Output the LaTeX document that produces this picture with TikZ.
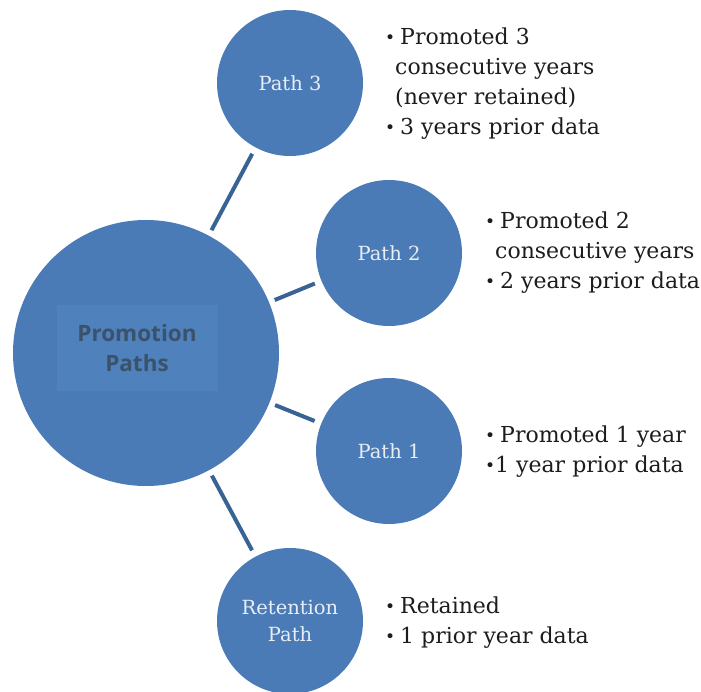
\documentclass[tikz,border=0pt]{standalone}
\usepackage{fontspec}
\setmainfont{DejaVu Serif}
\newfontfamily\hubfont{Open Sans}
\usetikzlibrary{positioning}

\definecolor{circblue}{RGB}{74,123,183}
\definecolor{boxblue}{RGB}{79,129,189}
\definecolor{linkblue}{RGB}{56,99,146}
\definecolor{hubtext}{RGB}{58,82,106}
\definecolor{pathtext}{RGB}{232,238,246}
\definecolor{notetext}{RGB}{28,28,28}

\newcommand{\bul}{\makebox[15pt][l]{\raisebox{1pt}{\fontsize{17}{30}\selectfont\textbullet}}}
\newcommand{\tightbul}{\makebox[10pt][l]{\raisebox{1pt}{\fontsize{17}{30}\selectfont\textbullet}}}
\newcommand{\ind}{\hspace*{10pt}}

\begin{document}
\begin{tikzpicture}[
    x=1pt, y=-1pt,
    hub/.style={circle, fill=circblue, minimum size=266pt, inner sep=0pt},
    pathcirc/.style={circle, fill=circblue, minimum size=146pt, inner sep=0pt, text=pathtext, align=center, font=\fontsize{19.5}{27}\selectfont},
    hublabel/.style={fill=boxblue, minimum width=161pt, minimum height=85pt, text=hubtext, align=center, font=\hubfont\bfseries\fontsize{22.5}{30}\selectfont},
    notes/.style={anchor=north west, inner sep=0pt, align=left, text=notetext, font=\fontsize{22}{30}\selectfont},
    link/.style={draw=linkblue, line width=4pt, shorten <=6pt, shorten >=7pt}
]
\useasboundingbox (0,0) rectangle (701,692);

% central circle
\node[hub] (main) at (146,353) {};
\node[hublabel] (mainlbl) at (137,348) {Promotion\\Paths};

% the four paths
\node[pathcirc] (p3) at (290,83) {Path 3};
\node[pathcirc] (p2) at (389,253) {Path 2};
\node[pathcirc] (p1) at (389,451) {Path 1};
\node[pathcirc] (pr) at (290,621) {Retention\\Path};

\draw[link] (main) -- (p3);
\draw[link] (main) -- (p2);
\draw[link] (main) -- (p1);
\draw[link] (main) -- (pr);

% notes
\node[notes] (n3) at (385,28) {\bul Promoted 3\\\ind consecutive years\\\ind (never retained)\\\bul 3 years prior data};
\node[notes] (n2) at (485,212) {\bul Promoted 2\\\ind consecutive years\\\bul 2 years prior data};
\node[notes] (n1) at (485,426) {\bul Promoted 1 year\\\tightbul 1 year prior data};
\node[notes] (nr) at (385,597) {\bul Retained\\\bul 1 prior year data};

\end{tikzpicture}
\end{document}
